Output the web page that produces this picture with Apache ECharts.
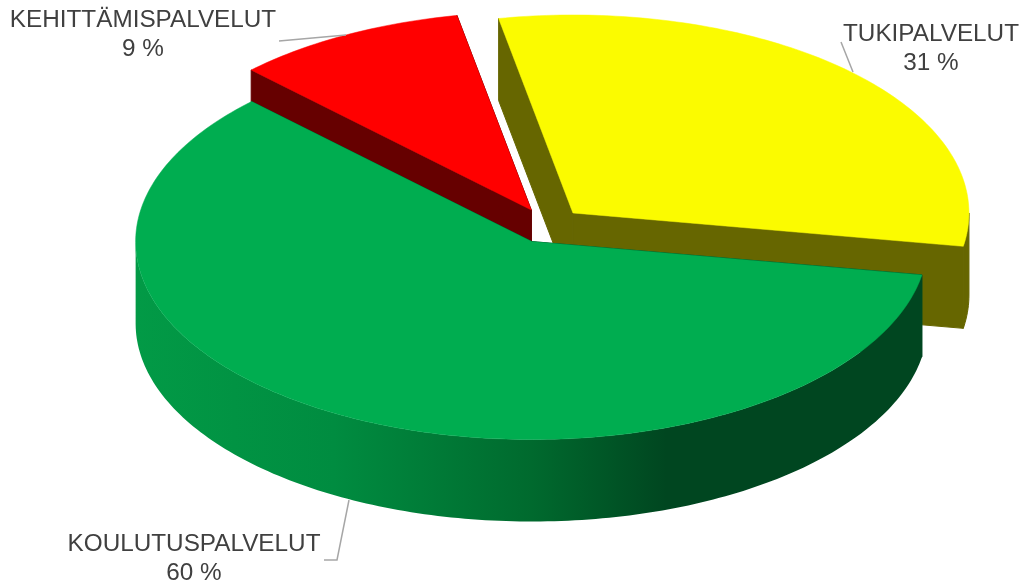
<!DOCTYPE html>
<html lang="fi">
	<head>
		<meta charset="UTF-8">
		<title>Palvelut</title>
		<style>
			html, body { margin: 0; padding: 0; background: #fff; }
			#chart { width: 1024px; height: 586px; }
		</style>
	</head>
	<body>
		<div id="chart"></div>
	</body>
	<script src="https://cdn.jsdelivr.net/npm/echarts@6/dist/echarts.min.js"></script>
	<script>
		// data, clockwise from the first slice
		var categories = ['KOULUTUSPALVELUT', 'KEHITTÄMISPALVELUT', 'TUKIPALVELUT'];
		var shares = [59.8, 9.5, 30.7];
		var shareLabels = ['60 %', '9 %', '31 %'];

		// look of the slices
		var topColors = ['#00AD50', '#FF0000', '#FBFB00'];
		var sideColors = ['#004A22', '#660000', '#666600'];
		var wallStops = [
			{ offset: 0, color: '#029A46' },
			{ offset: 0.25, color: '#008C40' },
			{ offset: 0.5, color: '#006A2E' },
			{ offset: 0.67, color: '#004620' },
			{ offset: 1, color: '#004620' }
		];
		var drawOrder = [3, 2, 1];

		// tilted pie geometry
		var pie = { cx: 548, cy: 225.7, rx: 396, ry: 198, depth: 82, explode: 0.09, start: 99.7 };

		// labels and their leader lines
		var labelPos = [[194, 559], [143, 35], [931, 49]];
		var leaders = [
			[[324, 560], [337, 560], [349, 500]],
			[[279, 41], [346, 35]],
			[[841, 42], [853, 72]]
		];

		var total = shares.reduce(function (a, b) { return a + b; }, 0);
		var DEG = Math.PI / 180;

		// angle is degrees clockwise from straight up
		function rim(c, a, dy) {
			return [c[0] + pie.rx * Math.sin(a * DEG), c[1] - pie.ry * Math.cos(a * DEG) + (dy || 0)];
		}

		function arc(c, a0, a1, dy) {
			var pts = [];
			for (var a = a0; a < a1; a += 1) {
				pts.push(rim(c, a, dy));
			}
			pts.push(rim(c, a1, dy));
			return pts;
		}

		function renderItem(params, api) {
			var i = params.dataIndex;
			var before = 0;
			for (var k = 0; k < i; k++) {
				before += shares[k];
			}
			var a0 = pie.start + before / total * 360;
			var a1 = a0 + api.value(0) / total * 360;
			var mid = (a0 + a1) / 2;
			var c = [
				pie.cx + pie.explode * pie.rx * Math.sin(mid * DEG),
				pie.cy - pie.explode * pie.ry * Math.cos(mid * DEG)
			];
			var z = drawOrder[i];
			var side = sideColors[i];
			var kids = [];

			// cut faces, stroked so no seam shows where they meet
			[a0, a1].forEach(function (a) {
				kids.push({
					type: 'polygon',
					z2: z,
					shape: { points: [c, rim(c, a), rim(c, a, pie.depth), [c[0], c[1] + pie.depth]] },
					style: { fill: side, stroke: side, lineWidth: 1 }
				});
			});

			// outer wall, only the part that faces the viewer
			[[90, 270], [450, 630]].forEach(function (front) {
				var w0 = Math.max(a0, front[0]);
				var w1 = Math.min(a1, front[1]);
				if (w1 > w0) {
					var wall = arc(c, w0, w1, 0).concat(arc(c, w0, w1, pie.depth).reverse());
					var fill = i === 0
						? new echarts.graphic.LinearGradient(c[0] - pie.rx, 0, c[0] + pie.rx, 0, wallStops, true)
						: side;
					kids.push({
						type: 'polygon',
						z2: z,
						shape: { points: wall },
						style: { fill: fill, stroke: i === 0 ? null : side, lineWidth: 1 }
					});
				}
			});

			// top
			kids.push({
				type: 'polygon',
				z2: z,
				shape: { points: [c].concat(arc(c, a0, a1, 0)) },
				style: { fill: topColors[i], stroke: topColors[i], lineWidth: 0.5 }
			});

			// leader line and label
			kids.push({
				type: 'polyline',
				z2: 10,
				shape: { points: leaders[i] },
				style: { fill: null, stroke: '#A6A6A6', lineWidth: 1.5 }
			});
			kids.push({
				type: 'text',
				z2: 11,
				style: {
					x: labelPos[i][0],
					y: labelPos[i][1],
					text: categories[i] + '\n' + shareLabels[i],
					font: '24.3px "Liberation Sans", Arial, sans-serif',
					lineHeight: 29,
					fill: '#404040',
					align: 'center',
					verticalAlign: 'middle'
				}
			});
			return { type: 'group', children: kids };
		}

		var myChart = echarts.init(document.getElementById('chart'), null, { renderer: 'canvas' });
		var option = {
			animation: false,
			backgroundColor: '#fff',
			series: [{
				type: 'custom',
				coordinateSystem: 'none',
				silent: true,
				renderItem: renderItem,
				data: shares.map(function (v) { return [v]; })
			}]
		};
		myChart.setOption(option);
	</script>
</html>
